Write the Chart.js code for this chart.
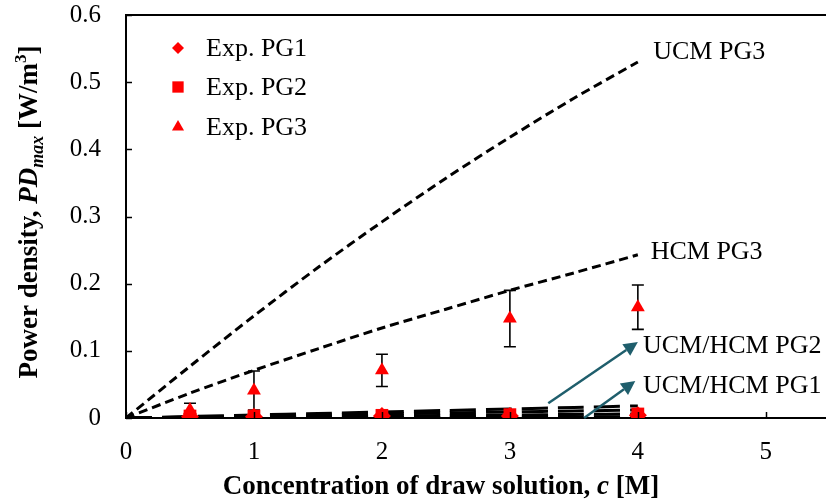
<!DOCTYPE html>
<html>
<head>
<meta charset="utf-8">
<script src="https://cdn.jsdelivr.net/npm/chart.js@4.4.1/dist/chart.umd.min.js"></script>
<style>
html,body{margin:0;padding:0;background:#fff;}
#wrap{width:826px;height:502px;position:relative;}
</style>
</head>
<body>
<div id="wrap"><canvas id="c" width="826" height="502"></canvas></div>
<script>
// ---- data ----
const cModel = [0, 0.5, 1, 1.5, 2, 2.5, 3, 3.5, 4];
const ucmPG3 = [0, 0.077, 0.152, 0.224, 0.292, 0.357, 0.418, 0.476, 0.530];
const hcmPG3 = [0, 0.037, 0.071, 0.103, 0.134, 0.162, 0.190, 0.216, 0.243];
const ucmPG2 = [0, 0.0022, 0.0045, 0.0067, 0.009, 0.0112, 0.0135, 0.0157, 0.018];
const hcmPG2 = [0, 0.0015, 0.003, 0.0045, 0.006, 0.0075, 0.009, 0.0105, 0.012];
const ucmPG1 = [0, 0.0008, 0.0015, 0.0023, 0.003, 0.0038, 0.0045, 0.0053, 0.006];
const hcmPG1 = [0, 0.0003, 0.0005, 0.0008, 0.001, 0.0013, 0.0015, 0.0018, 0.002];

const cExp = [0.5, 1, 2, 3, 4];
const expPG1 = [0.002, 0.002, 0.003, 0.003, 0.004];
const expPG2 = [0.003, 0.003, 0.004, 0.005, 0.006];
const expPG3 = [0.012, 0.041, 0.071, 0.148, 0.165];
const errPG3 = [0.010, 0.029, 0.024, 0.042, 0.033];

const xTicks = [0, 1, 2, 3, 4, 5];
const yTicks = [0, 0.1, 0.2, 0.3, 0.4, 0.5, 0.6];

const legendLabels = ['Exp. PG1', 'Exp. PG2', 'Exp. PG3'];
const curveLabels = ['UCM PG3', 'HCM PG3', 'UCM/HCM PG2', 'UCM/HCM PG1'];
const xTitle = ['Concentration of draw solution, ', 'c', ' [M]'];
const yTitle = ['Power density, ', 'PD', 'max', ' [W/m', '3', ']'];

// ---- helpers ----
const SERIF = "'Liberation Serif', 'Times New Roman', serif";
const pts = (xs, ys) => xs.map((x, i) => ({x: x, y: ys[i]}));
const RED = '#ff0000';
const TEAL = '#1f5e6c';

function modelDs(label, ys, dash, width) {
  return {label: label, data: pts(cModel, ys), borderColor: '#000', borderWidth: width,
    borderDash: dash, pointRadius: 0, fill: false, tension: 0.3, showLine: true};
}

const datasets = [
  {label: legendLabels[0], data: pts(cExp, expPG1), showLine: false, pointStyle: 'rectRot',
   pointRadius: 9, backgroundColor: RED, borderColor: RED, borderWidth: 0},
  {label: legendLabels[1], data: pts(cExp, expPG2), showLine: false, pointStyle: 'rect',
   pointRadius: 9, backgroundColor: RED, borderColor: RED, borderWidth: 0},
  {label: legendLabels[2], data: pts(cExp, expPG3), showLine: false, pointStyle: 'triangle',
   pointRadius: 8, backgroundColor: RED, borderColor: RED, borderWidth: 0, errors: errPG3},
  modelDs('UCM PG3', ucmPG3, [9, 5], 3),
  modelDs('HCM PG3', hcmPG3, [9, 5], 3),
  modelDs('UCM PG2', ucmPG2, [26, 10], 3),
  modelDs('HCM PG2', hcmPG2, [26, 10], 3),
  modelDs('UCM PG1', ucmPG1, [26, 10], 3),
  modelDs('HCM PG1', hcmPG1, [26, 10], 3)
];

function drawArrow(ctx, x1, y1, x2, y2) {
  const ang = Math.atan2(y2 - y1, x2 - x1);
  const hl = 14, hw = 7;
  const bx = x2 - hl * Math.cos(ang), by = y2 - hl * Math.sin(ang);
  ctx.save();
  ctx.strokeStyle = TEAL; ctx.fillStyle = TEAL; ctx.lineWidth = 2.5;
  ctx.beginPath(); ctx.moveTo(x1, y1); ctx.lineTo(bx, by); ctx.stroke();
  ctx.beginPath();
  ctx.moveTo(x2, y2);
  ctx.lineTo(bx + hw * Math.sin(ang), by - hw * Math.cos(ang));
  ctx.lineTo(bx - hw * Math.sin(ang), by + hw * Math.cos(ang));
  ctx.closePath(); ctx.fill();
  ctx.restore();
}

const decor = {
  id: 'decor',
  beforeDatasetsDraw(chart) {
    const ctx = chart.ctx, xs = chart.scales.x, ys = chart.scales.y;
    chart.data.datasets.forEach(ds => {
      if (!ds.errors) return;
      ctx.save();
      ctx.strokeStyle = '#000'; ctx.lineWidth = 1.6;
      ds.data.forEach((p, i) => {
        const e = ds.errors[i];
        const px = xs.getPixelForValue(p.x);
        const yt = ys.getPixelForValue(p.y + e), yb = ys.getPixelForValue(Math.max(p.y - e, 0));
        ctx.beginPath();
        ctx.moveTo(px, yt); ctx.lineTo(px, yb);
        ctx.moveTo(px - 6, yt); ctx.lineTo(px + 6, yt);
        ctx.moveTo(px - 6, yb); ctx.lineTo(px + 6, yb);
        ctx.stroke();
      });
      ctx.restore();
    });
  },
  afterDraw(chart) {
    const ctx = chart.ctx, xs = chart.scales.x, ys = chart.scales.y, a = chart.chartArea;
    ctx.save();
    ctx.strokeStyle = '#000'; ctx.lineWidth = 2;
    ctx.beginPath();
    ctx.moveTo(a.left, a.top); ctx.lineTo(chart.width, a.top);
    ctx.moveTo(a.right - 2, a.bottom); ctx.lineTo(chart.width, a.bottom);
    ctx.stroke();
    ctx.lineWidth = 1.5;
    yTicks.forEach(v => {
      const py = Math.round(ys.getPixelForValue(v)) + 0.5;
      ctx.beginPath(); ctx.moveTo(a.left, py); ctx.lineTo(a.left + 6, py); ctx.stroke();
    });
    xTicks.forEach(v => {
      const px = Math.round(xs.getPixelForValue(v)) + 0.5;
      ctx.beginPath(); ctx.moveTo(px, a.bottom); ctx.lineTo(px, a.bottom - 6); ctx.stroke();
    });
    // curve labels
    ctx.fillStyle = '#000';
    ctx.font = '26px ' + SERIF;
    ctx.textAlign = 'left'; ctx.textBaseline = 'middle';
    const lab = [[4.12, 0.545], [4.10, 0.247], [4.04, 0.107], [4.04, 0.048]];
    curveLabels.forEach((t, i) => {
      ctx.fillText(t, xs.getPixelForValue(lab[i][0]), ys.getPixelForValue(lab[i][1]));
    });
    drawArrow(ctx, xs.getPixelForValue(3.3), ys.getPixelForValue(0.022),
                   xs.getPixelForValue(4.0), ys.getPixelForValue(0.113));
    drawArrow(ctx, xs.getPixelForValue(3.58), ys.getPixelForValue(0.0),
                   xs.getPixelForValue(3.98), ys.getPixelForValue(0.055));
    // legend
    const lx = 178, ltx = 206, ly = [48, 87, 127];
    const sizes = [6, 8, 7];
    [0, 1, 2].forEach(i => {
      const ds = chart.data.datasets[i];
      ctx.fillStyle = RED; ctx.strokeStyle = RED;
      Chart.helpers.drawPoint(ctx, {pointStyle: ds.pointStyle, radius: sizes[i], borderWidth: 0, rotation: 0}, lx, ly[i]);
      ctx.fillStyle = '#000';
      ctx.font = '26px ' + SERIF;
      ctx.textAlign = 'left'; ctx.textBaseline = 'middle';
      ctx.fillText(ds.label, ltx, ly[i] + 1);
    });
    // x title
    const fB = 'bold 27px ' + SERIF, fBI = 'italic bold 27px ' + SERIF;
    const segX = [[xTitle[0], fB], [xTitle[1], fBI], [xTitle[2], fB]];
    let w = 0;
    segX.forEach(s => { ctx.font = s[1]; w += ctx.measureText(s[0]).width; });
    let x = 441 - w / 2;
    ctx.textAlign = 'left'; ctx.textBaseline = 'alphabetic';
    segX.forEach(s => { ctx.font = s[1]; ctx.fillText(s[0], x, 494); x += ctx.measureText(s[0]).width; });
    // y title
    const fS = 'italic bold 18px ' + SERIF, fSup = 'bold 17px ' + SERIF;
    const segY = [[yTitle[0], fB, 0], [yTitle[1], fBI, 0], [yTitle[2], fS, 6], [yTitle[3], fB, 0], [yTitle[4], fSup, -11], [yTitle[5], fB, 0]];
    w = 0;
    segY.forEach(s => { ctx.font = s[1]; w += ctx.measureText(s[0]).width; });
    ctx.translate(37, 212);
    ctx.rotate(-Math.PI / 2);
    x = -w / 2;
    segY.forEach(s => { ctx.font = s[1]; ctx.fillText(s[0], x, s[2]); x += ctx.measureText(s[0]).width; });
    ctx.restore();
  }
};

new Chart(document.getElementById('c'), {
  type: 'scatter',
  data: {datasets: datasets},
  options: {
    responsive: false,
    animation: false,
    devicePixelRatio: 1,
    layout: {padding: {top: 15, right: 0, left: 0, bottom: 0}},
    plugins: {legend: {display: false}, tooltip: {enabled: false}},
    scales: {
      x: {
        type: 'linear', min: 0, max: 5.40,
        afterBuildTicks: s => { s.ticks = xTicks.map(v => ({value: v})); },
        afterFit: s => { s.height = 84; s.paddingLeft = 0; s.paddingRight = 0; },
        grid: {display: false, drawTicks: false},
        border: {display: true, color: '#000', width: 2},
        ticks: {padding: 19, color: '#000', font: {family: SERIF, size: 25}, callback: v => String(v)}
      },
      y: {
        type: 'linear', min: 0, max: 0.6,
        afterBuildTicks: s => { s.ticks = yTicks.map(v => ({value: v})); },
        afterFit: s => { s.width = 126; s.paddingTop = 0; s.paddingBottom = 0; s.paddingLeft = 0; s.paddingRight = 0; },
        grid: {display: false, drawTicks: false},
        border: {display: true, color: '#000', width: 2},
        ticks: {padding: 25, color: '#000', font: {family: SERIF, size: 25}, callback: v => String(Math.round(v * 10) / 10)}
      }
    }
  },
  plugins: [decor]
});
</script>
</body>
</html>
